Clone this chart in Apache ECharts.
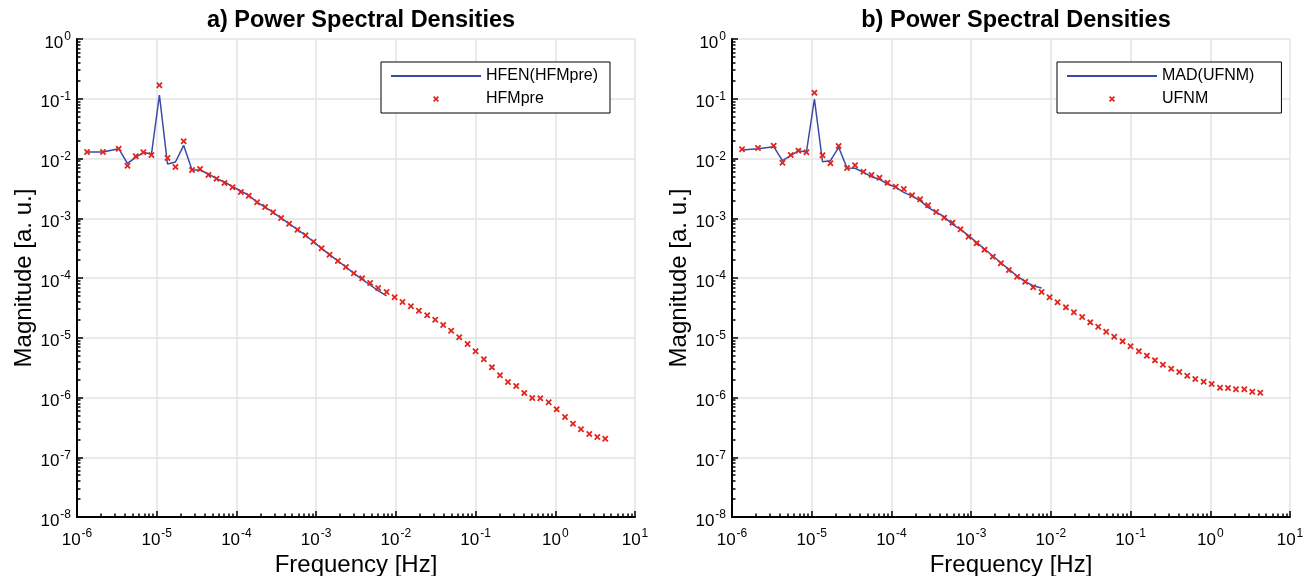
<!DOCTYPE html>
<html>
<head>
<meta charset="utf-8">
<script src="https://cdn.jsdelivr.net/npm/echarts@6/dist/echarts.min.js"></script>
<style>
html,body{margin:0;padding:0;background:#fff;}
#chart{width:1311px;height:576px;}
</style>
</head>
<body>
<div id="chart"></div>
<script>
// Frequencies [Hz] (shared by both panels)
const freq = [1.337e-6,2.118e-6,3.334e-6,4.295e-6,5.458e-6,6.808e-6,8.590e-6,1.081e-5,1.365e-5,1.718e-5,
  2.178e-5,2.773e-5,3.499e-5,4.457e-5,5.623e-5,7.079e-5,8.933e-5,1.135e-4,1.429e-4,1.816e-4,
  2.291e-4,2.884e-4,3.639e-4,4.581e-4,5.834e-4,7.362e-4,9.268e-4,1.169e-3,1.472e-3,1.871e-3,
  2.360e-3,2.972e-3,3.776e-3,4.764e-3,5.998e-3,7.656e-3,9.638e-3,1.213e-2,1.545e-2,1.945e-2,
  2.472e-2,3.119e-2,3.926e-2,4.943e-2,6.237e-2,7.943e-2,0.1,0.1271,0.1603,0.2023,
  0.2547,0.3236,0.4083,0.5140,0.6486,0.8260,1.040,1.324,1.667,2.099,
  2.673,3.365,4.236];

// Panel a)
const hfenLine = [1.285e-2,1.285e-2,1.459e-2,8.318e-3,1.047e-2,1.271e-2,1.175e-2,1.156e-1,8.091e-3,8.730e-3,
  1.663e-2,6.427e-3,6.427e-3,5.508e-3,4.592e-3,4.046e-3,3.373e-3,2.858e-3,2.421e-3,1.849e-3,
  1.542e-3,1.259e-3,1.009e-3,8.110e-4,6.427e-4,5.176e-4,4.046e-4,3.141e-4,2.455e-4,1.928e-4,
  1.528e-4,1.199e-4,9.506e-5,7.638e-5,6.138e-5,5.000e-5];
const hfmpre = [1.285e-2,1.285e-2,1.459e-2,7.568e-3,1.089e-2,1.271e-2,1.146e-2,1.679e-1,1.019e-2,7.211e-3,
  1.941e-2,6.427e-3,6.668e-3,5.297e-3,4.592e-3,3.890e-3,3.296e-3,2.748e-3,2.382e-3,1.849e-3,
  1.542e-3,1.259e-3,1.009e-3,8.110e-4,6.427e-4,5.176e-4,4.046e-4,3.141e-4,2.455e-4,1.928e-4,
  1.528e-4,1.199e-4,9.886e-5,8.241e-5,6.808e-5,5.834e-5,4.753e-5,3.963e-5,3.357e-5,2.838e-5,
  2.377e-5,2.004e-5,1.633e-5,1.312e-5,1.019e-5,7.852e-6,5.929e-6,4.355e-6,3.199e-6,2.355e-6,
  1.816e-6,1.556e-6,1.189e-6,9.817e-7,9.705e-7,8.318e-7,6.339e-7,4.721e-7,3.639e-7,2.938e-7,
  2.449e-7,2.183e-7,2.042e-7];

// Panel b)
const madLine = [1.387e-2,1.459e-2,1.578e-2,9.204e-3,1.114e-2,1.352e-2,1.285e-2,9.908e-2,8.851e-3,9.204e-3,
  1.538e-2,6.934e-3,6.855e-3,5.875e-3,4.966e-3,4.487e-3,3.741e-3,3.296e-3,2.716e-3,2.355e-3,
  1.968e-3,1.524e-3,1.259e-3,1.062e-3,7.907e-4,6.531e-4,5.105e-4,3.954e-4,3.055e-4,2.333e-4,
  1.803e-4,1.396e-4,1.079e-4,8.670e-5,7.430e-5,6.808e-5];
const ufnm = [1.426e-2,1.500e-2,1.637e-2,8.511e-3,1.146e-2,1.352e-2,1.271e-2,1.262e-1,1.132e-2,8.318e-3,
  1.618e-2,6.934e-3,7.691e-3,6.012e-3,5.297e-3,4.775e-3,3.936e-3,3.373e-3,3.090e-3,2.427e-3,
  2.075e-3,1.648e-3,1.274e-3,1.021e-3,8.433e-4,6.531e-4,4.909e-4,3.802e-4,2.979e-4,2.275e-4,
  1.762e-4,1.361e-4,1.052e-4,8.670e-5,6.982e-5,5.834e-5,4.753e-5,3.917e-5,3.228e-5,2.667e-5,
  2.223e-5,1.811e-5,1.531e-5,1.262e-5,1.040e-5,8.710e-6,7.194e-6,5.929e-6,5.012e-6,4.188e-6,
  3.540e-6,3.034e-6,2.673e-6,2.317e-6,2.042e-6,1.837e-6,1.683e-6,1.459e-6,1.442e-6,1.371e-6,
  1.371e-6,1.250e-6,1.202e-6];

const titles = ['a) Power Spectral Densities', 'b) Power Spectral Densities'];
const lineNames = ['HFEN(HFMpre)', 'MAD(UFNM)'];
const pointNames = ['HFMpre', 'UFNM'];
const xLabel = 'Frequency [Hz]';
const yLabel = 'Magnitude [a. u.]';
const xRange = [1e-6, 10];
const yRange = [1e-8, 1];

const FONT = 'Liberation Sans, Arial, Helvetica, sans-serif';
const BLUE = '#3a4aa8';
const RED = '#e2261d';
const XSYM = 'path://M0,2 L2,0 L5,3 L8,0 L10,2 L7,5 L10,8 L8,10 L5,7 L2,10 L0,8 L3,5 Z';

function zip(xs, ys) { return ys.map((y, i) => [xs[i], y]); }

// minor tick positions (in log10 space) for overlay axes
function minorLog(lo, hi) {
  const out = [];
  for (let d = lo; d < hi; d++) for (let k = 2; k <= 9; k++) out.push(d + Math.log10(k));
  return out;
}
const minorX = minorLog(-6, 1);
const minorY = minorLog(-8, 0);

function expLabel(v) {
  const e = Math.round(Math.log10(v));
  return '{a|10}{b|' + e + '}';
}
const richLab = {
  a: { fontSize: 17, fontFamily: FONT, color: '#000', lineHeight: 24 },
  b: { fontSize: 12, fontFamily: FONT, color: '#000', verticalAlign: 'top', padding: [0, 0, 0, 1] }
};

const gridRects = [
  { left: 77, top: 39, width: 558, height: 478 },
  { left: 732, top: 39, width: 558, height: 478 }
];

const grids = [], xAxes = [], yAxes = [], series = [], titleOpt = [], legends = [];
const legendPos = [{ left: 381, padR: 12 }, { left: 1057, padR: 27 }];
const lines = [hfenLine, madLine];
const points = [hfmpre, ufnm];

for (let k = 0; k < 2; k++) {
  for (let p = 0; p < 2; p++) {
    grids.push(Object.assign({ containLabel: false, outerBoundsMode: 'none' }, gridRects[p]));
  }
}

for (let p = 0; p < 2; p++) {
  xAxes.push({
    type: 'log', gridIndex: p, position: 'bottom', min: xRange[0], max: xRange[1], logBase: 10,
    name: xLabel, nameLocation: 'middle', nameGap: 29.5,
    nameTextStyle: { fontSize: 24, fontFamily: FONT, color: '#000' },
    axisLine: { show: true, onZero: false, lineStyle: { color: '#000', width: 2 } },
    axisTick: { show: true, inside: true, length: 6, lineStyle: { color: '#000', width: 1.5 } },
    axisLabel: { show: true, margin: 11, formatter: expLabel, rich: richLab, showMinLabel: true, showMaxLabel: true },
    splitLine: { show: true, lineStyle: { color: '#e3e3e3', width: 1.5 } }
  });
  yAxes.push({
    type: 'log', gridIndex: p, position: 'left', min: yRange[0], max: yRange[1], logBase: 10,
    name: yLabel, nameLocation: 'middle', nameGap: 41, nameRotate: 90,
    nameTextStyle: { fontSize: 24, fontFamily: FONT, color: '#000' },
    axisLine: { show: true, onZero: false, lineStyle: { color: '#000', width: 2 } },
    axisTick: { show: true, inside: true, length: 6, lineStyle: { color: '#000', width: 1.5 } },
    axisLabel: { show: true, margin: 6, formatter: expLabel, rich: richLab, padding: [8, 0, 0, 0], showMinLabel: true, showMaxLabel: true },
    splitLine: { show: true, lineStyle: { color: '#e3e3e3', width: 1.5 } }
  });
}
// overlay axes carrying the minor ticks
for (let p = 0; p < 2; p++) {
  xAxes.push({
    type: 'value', gridIndex: 2 + p, position: 'bottom', min: -6, max: 1,
    axisLine: { show: false, onZero: false }, axisLabel: { show: false }, splitLine: { show: false },
    axisTick: { show: true, inside: true, length: 3.5, customValues: minorX, lineStyle: { color: '#000', width: 1.5 } }
  });
  yAxes.push({
    type: 'value', gridIndex: 2 + p, position: 'left', min: -8, max: 0,
    axisLine: { show: false, onZero: false }, axisLabel: { show: false }, splitLine: { show: false },
    axisTick: { show: true, inside: true, length: 3.5, customValues: minorY, lineStyle: { color: '#000', width: 1.5 } }
  });
}

for (let p = 0; p < 2; p++) {
  series.push({
    type: 'line', name: lineNames[p], xAxisIndex: p, yAxisIndex: p,
    data: zip(freq, lines[p]), symbol: 'circle', symbolSize: 0, showSymbol: false,
    lineStyle: { color: BLUE, width: 1.5 },
    itemStyle: { color: 'rgba(0,0,0,0)', borderWidth: 0 },
    z: 2, silent: true
  });
  series.push({
    type: 'scatter', name: pointNames[p], xAxisIndex: p, yAxisIndex: p,
    data: zip(freq, points[p]), symbol: XSYM, symbolSize: 6.5,
    itemStyle: { color: RED, opacity: 1 }, z: 3, silent: true
  });
  const cx = gridRects[p].left + gridRects[p].width / 2;
  titleOpt.push({
    text: titles[p], left: cx, top: 4, textAlign: 'center',
    textStyle: { fontSize: 23.5, fontWeight: 'bold', fontFamily: FONT, color: '#000' }
  });
  legends.push({
    orient: 'vertical', align: 'left', left: legendPos[p].left, top: 62,
    data: [lineNames[p], pointNames[p]],
    itemWidth: 90, itemHeight: 6, itemGap: 7, itemTextGap: 7,
    padding: [6, legendPos[p].padR, 6, 9],
    borderColor: '#000', borderWidth: 1, backgroundColor: '#fff',
    textStyle: { fontSize: 16, fontFamily: FONT, color: '#000' },
    selectedMode: false
  });
}

const chart = echarts.init(document.getElementById('chart'), null, { renderer: 'canvas' });
chart.setOption({
  animation: false,
  backgroundColor: '#fff',
  title: titleOpt,
  legend: legends,
  grid: grids,
  xAxis: xAxes,
  yAxis: yAxes,
  series: series
});
</script>
</body>
</html>
